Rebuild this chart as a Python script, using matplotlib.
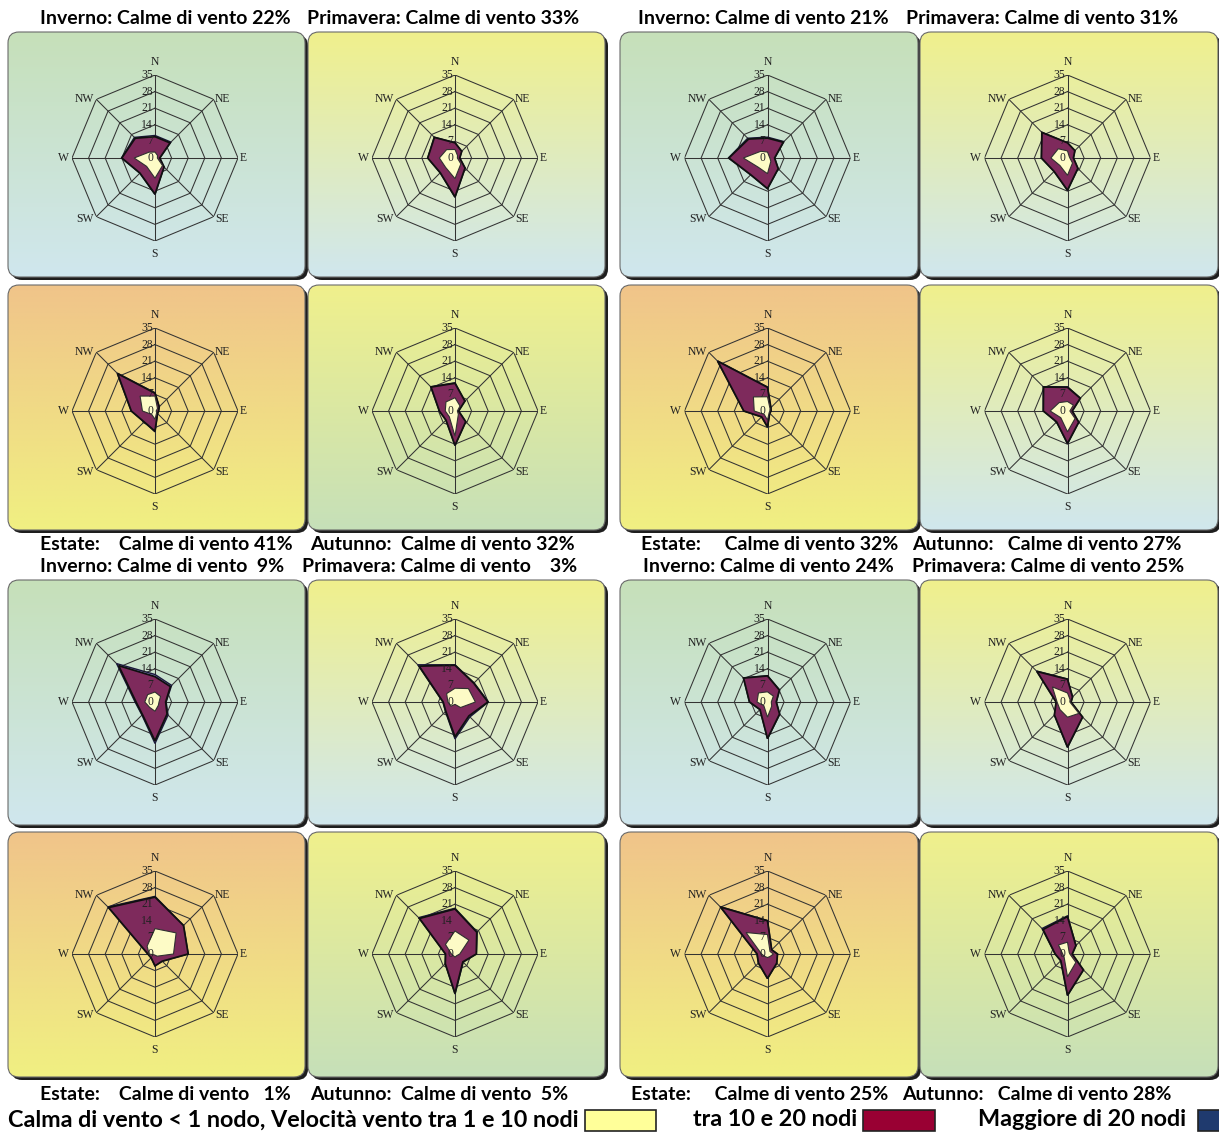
import numpy as np
import matplotlib.pyplot as plt
from matplotlib.patches import FancyBboxPatch, Rectangle
from matplotlib.colors import to_rgb

W, H = 1219, 1133

directions = ['N', 'NE', 'E', 'SE', 'S', 'SW', 'W', 'NW']
ring_levels = [7, 14, 21, 28, 35]
tick_levels = [0, 7, 14, 21, 28, 35]

# frequenze (%) per direzione N..NW: 1-10 nodi, 10-20 nodi, >20 nodi
# --- gruppo sinistro ---
inv22_low = [2.5, 1.5, 1.0, 4.5, 8.5, 5.0, 8.8, 3.5]
inv22_mid = [6.5, 7.5, 1.0, 0.9, 6.7, 4.0, 5.2, 8.3]
inv22_high = [0.5, 0.5, 0.0, 0.0, 0.2, 0.0, 0.1, 0.5]

pri33_low = [3.6, 1.5, 1.0, 3.5, 8.7, 5.6, 6.6, 5.0]
pri33_mid = [2.8, 2.5, 1.0, 2.5, 7.7, 3.2, 4.9, 7.3]
pri33_high = [0.1, 0.0, 0.0, 0.0, 0.2, 0.0, 0.0, 0.1]

est41_low = [6.3, 1.5, 0.5, 1.0, 3.5, 2.0, 5.3, 8.9]
est41_mid = [1.2, 1.0, 1.0, 0.5, 5.0, 4.5, 4.7, 13.4]
est41_high = [0.2, 0.0, 0.0, 0.0, 0.3, 0.0, 0.0, 0.3]

aut32_low = [5.6, 3.0, 1.0, 2.0, 10.6, 3.4, 4.1, 5.4]
aut32_mid = [6.1, 2.9, 0.5, 4.4, 3.9, 2.0, 2.5, 8.9]
aut32_high = [0.2, 0.0, 0.0, 0.0, 0.1, 0.0, 0.0, 0.2]

inv9_low = [4.2, 3.3, 1.7, 2.0, 3.9, 3.2, 4.3, 4.4]
inv9_mid = [6.5, 5.9, 2.8, 5.2, 12.5, 4.3, 3.7, 17.3]
inv9_high = [0.9, 0.7, 0.2, 0.6, 1.1, 0.3, 0.4, 1.2]

pri3_low = [5.8, 8.0, 8.6, 3.3, 1.0, 2.5, 3.0, 5.0]
pri3_mid = [9.7, 3.2, 5.3, 5.0, 13.7, 3.0, 2.0, 16.4]
pri3_high = [0.2, 0.2, 0.2, 0.6, 0.9, 0.2, 0.1, 0.8]

est1_low = [10.7, 12.6, 7.8, 1.3, 0.5, 0.5, 2.5, 4.7]
est1_mid = [13.3, 4.4, 6.2, 3.0, 4.5, 1.8, 0.5, 23.0]
est1_high = [0.3, 0.0, 0.0, 0.0, 0.0, 0.0, 0.0, 0.4]

aut5_low = [9.7, 8.3, 2.0, 1.0, 1.3, 1.0, 1.5, 5.7]
aut5_mid = [9.3, 4.7, 7.0, 3.7, 15.3, 4.8, 2.5, 15.5]
aut5_high = [0.3, 0.2, 0.0, 0.2, 0.3, 0.0, 0.0, 0.5]

# --- gruppo destro ---
inv21_low = [2.5, 1.0, 1.0, 2.0, 6.6, 5.5, 10.2, 4.0]
inv21_mid = [5.9, 8.4, 2.0, 4.4, 6.3, 4.5, 6.1, 7.3]
inv21_high = [0.4, 0.4, 0.0, 0.0, 0.1, 0.0, 0.2, 0.5]

pri31_low = [3.0, 1.0, 1.0, 3.0, 7.3, 4.5, 7.0, 5.5]
pri31_mid = [3.4, 3.4, 1.5, 3.2, 6.3, 3.5, 4.0, 9.7]
pri31_high = [0.0, 0.0, 0.0, 0.0, 0.1, 0.0, 0.0, 0.2]

est32_low = [6.0, 1.5, 1.0, 1.0, 3.8, 2.0, 5.6, 8.4]
est32_mid = [4.0, 0.5, 0.5, 0.3, 2.9, 1.5, 4.4, 21.3]
est32_high = [0.1, 0.0, 0.0, 0.0, 0.1, 0.0, 0.0, 0.2]

aut27_low = [4.0, 3.5, 1.0, 4.5, 8.8, 4.0, 7.3, 5.0]
aut27_mid = [6.0, 4.1, 1.0, 2.2, 4.9, 2.5, 2.9, 9.3]
aut27_high = [0.2, 0.1, 0.0, 0.0, 0.1, 0.0, 0.0, 0.2]

inv24_low = [4.3, 3.5, 1.6, 2.5, 6.4, 2.2, 4.4, 5.4]
inv24_mid = [6.7, 3.6, 2.1, 4.7, 9.0, 2.3, 3.2, 8.9]
inv24_high = [0.1, 0.1, 0.0, 0.1, 0.1, 0.0, 0.0, 0.1]

pri25_low = [3.8, 1.5, 1.0, 6.8, 6.4, 4.5, 4.4, 9.0]
pri25_mid = [5.8, 1.5, 0.5, 2.2, 12.6, 3.3, 0.4, 9.2]
pri25_high = [0.1, 0.0, 0.0, 0.0, 0.2, 0.0, 0.0, 0.3]

est25_low = [8.2, 1.5, 2.5, 1.5, 1.5, 1.5, 2.5, 12.8]
est25_mid = [5.8, 1.0, 1.7, 4.0, 8.8, 3.9, 1.9, 15.2]
est25_high = [0.1, 0.0, 0.0, 0.0, 0.1, 0.0, 0.0, 0.3]

aut28_low = [5.0, 1.0, 1.0, 5.0, 9.6, 2.0, 2.0, 5.4]
aut28_mid = [10.8, 4.0, 1.0, 4.5, 7.8, 2.0, 3.2, 9.2]
aut28_high = [0.3, 0.1, 0.0, 0.0, 0.1, 0.0, 0.0, 0.6]

# (low, mid, high, colonna, riga, sfondo)
panels = [
    (inv22_low, inv22_mid, inv22_high, 0, 0, 'inverno'),
    (pri33_low, pri33_mid, pri33_high, 1, 0, 'primavera'),
    (est41_low, est41_mid, est41_high, 0, 1, 'estate'),
    (aut32_low, aut32_mid, aut32_high, 1, 1, 'autunno'),
    (inv9_low, inv9_mid, inv9_high, 0, 2, 'inverno'),
    (pri3_low, pri3_mid, pri3_high, 1, 2, 'primavera'),
    (est1_low, est1_mid, est1_high, 0, 3, 'estate'),
    (aut5_low, aut5_mid, aut5_high, 1, 3, 'autunno'),
    (inv21_low, inv21_mid, inv21_high, 2, 0, 'inverno'),
    (pri31_low, pri31_mid, pri31_high, 3, 0, 'primavera'),
    (est32_low, est32_mid, est32_high, 2, 1, 'estate'),
    (aut27_low, aut27_mid, aut27_high, 3, 1, 'autunno_b'),
    (inv24_low, inv24_mid, inv24_high, 2, 2, 'inverno'),
    (pri25_low, pri25_mid, pri25_high, 3, 2, 'primavera'),
    (est25_low, est25_mid, est25_high, 2, 3, 'estate'),
    (aut28_low, aut28_mid, aut28_high, 3, 3, 'autunno'),
]

titles = [
    (40, 18, 'Inverno: Calme di vento 22%'),
    (307, 18, 'Primavera: Calme di vento 33%'),
    (638, 18, 'Inverno: Calme di vento 21%'),
    (906, 18, 'Primavera: Calme di vento 31%'),
    (40, 545, 'Estate:    Calme di vento 41%'),
    (310, 545, 'Autunno:  Calme di vento 32%'),
    (641, 545, 'Estate:     Calme di vento 32%'),
    (912, 545, 'Autunno:   Calme di vento 27%'),
    (40, 567, 'Inverno: Calme di vento  9%'),
    (302, 567, 'Primavera: Calme di vento    3%'),
    (643, 567, 'Inverno: Calme di vento 24%'),
    (912, 567, 'Primavera: Calme di vento 25%'),
    (40, 1094, 'Estate:    Calme di vento   1%'),
    (310, 1094, 'Autunno:  Calme di vento  5%'),
    (631, 1094, 'Estate:     Calme di vento 25%'),
    (902, 1094, 'Autunno:   Calme di vento 28%'),
]

legend_labels = ['Calma di vento < 1 nodo, Velocità vento tra 1 e 10 nodi',
                 'tra 10 e 20 nodi', 'Maggiore di 20 nodi']

bg_colors = {
    'inverno': ('#c6e0b9', '#d0e7ee'),
    'primavera': ('#f0f08c', '#d0e7ee'),
    'estate': ('#f0c48a', '#f0f082'),
    'autunno': ('#f0f08c', '#c6e0b9'),
    'autunno_b': ('#f0f08c', '#d0e7ee'),
}

# posizione delle etichette di direzione: offset (pt) e allineamento
dir_style = {
    'N': ((0, 5), 'center', 'bottom'),
    'NE': ((1, 0.5), 'left', 'center'),
    'E': ((1.5, 0), 'left', 'center'),
    'SE': ((1, -2), 'left', 'center'),
    'S': ((0, -5), 'center', 'top'),
    'SW': ((-1.5, -2), 'right', 'center'),
    'W': ((-2.5, 0), 'right', 'center'),
    'NW': ((-1.5, 0.5), 'right', 'center'),
}

cols = [(8, 305), (308, 605), (620, 918), (920, 1218)]
rows = [(32, 277), (285, 530), (580, 825), (832, 1077)]
row_cy = [158, 411, 702, 954]
R = 83

c_low, c_mid, c_high = '#fdfbc6', '#7e2a5c', '#8e8ed8'

fig = plt.figure(figsize=(W / 100, H / 100), dpi=100)
fig.patch.set_facecolor('white')

bg = fig.add_axes([0, 0, 1, 1])
bg.axis('off')

theta = np.deg2rad(np.arange(8) * 45)
theta_c = np.append(theta, theta[0])

for low, mid, high, c, r, kind in panels:
    x0, x1 = cols[c]
    y0, y1 = rows[r]
    shadow = FancyBboxPatch((x0 + 3, y0 + 3), x1 - x0, y1 - y0,
                            boxstyle='round,pad=0,rounding_size=11',
                            fc='#1e1e1e', ec='none', zorder=1)
    bg.add_patch(shadow)
    frame = FancyBboxPatch((x0, y0), x1 - x0, y1 - y0,
                           boxstyle='round,pad=0,rounding_size=11',
                           fc='none', ec='#6a6a6a', lw=0.8, zorder=3)
    bg.add_patch(frame)
    top, bot = np.array(to_rgb(bg_colors[kind][0])), np.array(to_rgb(bg_colors[kind][1]))
    t = np.linspace(0, 1, 256)[:, None, None]
    img = top * (1 - t) + bot * t
    im = bg.imshow(img, extent=(x0, x1, y1, y0), aspect='auto',
                   interpolation='bilinear', zorder=2)
    im.set_clip_path(frame)

    cx = (x0 + x1) / 2 - 1.5
    cy = row_cy[r]
    ax = fig.add_axes([(cx - R) / W, 1 - (cy + R) / H, 2 * R / W, 2 * R / H],
                      projection='polar')
    ax.set_theta_zero_location('N')
    ax.set_theta_direction(-1)
    ax.axis('off')
    ax.set_ylim(0, 35)

    for lv in ring_levels:
        ax.plot(theta_c, [lv] * 9, color='#333333', lw=0.75, zorder=1)
    for th in theta:
        ax.plot([th, th], [0, 35], color='#333333', lw=0.75, zorder=1)

    stack = np.cumsum([low, mid, high], axis=0)
    ax.fill(theta_c, np.append(stack[2], stack[2][0]), fc=c_high,
            ec='#1a1a3a', lw=1.0, zorder=2)
    ax.fill(theta_c, np.append(stack[1], stack[1][0]), fc=c_mid,
            ec='#101010', lw=1.3, zorder=3)
    ax.fill(theta_c, np.append(stack[0], stack[0][0]), fc=c_low,
            ec='#303030', lw=0.8, zorder=4)

    for th, d in zip(theta, directions):
        off, ha, va = dir_style[d]
        ax.annotate(d, xy=(th, 35), xytext=off, textcoords='offset points',
                    ha=ha, va=va, fontsize=8.4, family='Liberation Serif',
                    color='#222222')
    for lv in tick_levels:
        ax.annotate(str(lv), xy=(0, lv), xytext=(-1.5, 0), textcoords='offset points',
                    ha='right', va='center', fontsize=8.4,
                    family='Liberation Serif', color='#222222', zorder=6)

for x, y, s in titles:
    bg.text(x, y, s, ha='left', va='center', fontsize=14,
            family='Lato', fontweight='bold', color='black')

# legenda
bg.text(8, 1120, legend_labels[0], ha='left', va='center', fontsize=16.8,
        family='Lato', fontweight='bold', color='black')
bg.add_patch(Rectangle((585, 1110), 71, 21, fc='#ffff99', ec='#222222', lw=1.2))
bg.text(693, 1120, legend_labels[1], ha='left', va='center', fontsize=16.8,
        family='Lato', fontweight='bold', color='black')
bg.add_patch(Rectangle((863, 1110), 72, 21, fc='#990033', ec='#222222', lw=1.2))
bg.text(978, 1120, legend_labels[2], ha='left', va='center', fontsize=16.8,
        family='Lato', fontweight='bold', color='black')
bg.add_patch(Rectangle((1198, 1110), 30, 21, fc='#1f3a6e', ec='#222222', lw=1.2))

bg.set_xlim(0, W)
bg.set_ylim(H, 0)

fig.savefig('out.png', dpi=100)
